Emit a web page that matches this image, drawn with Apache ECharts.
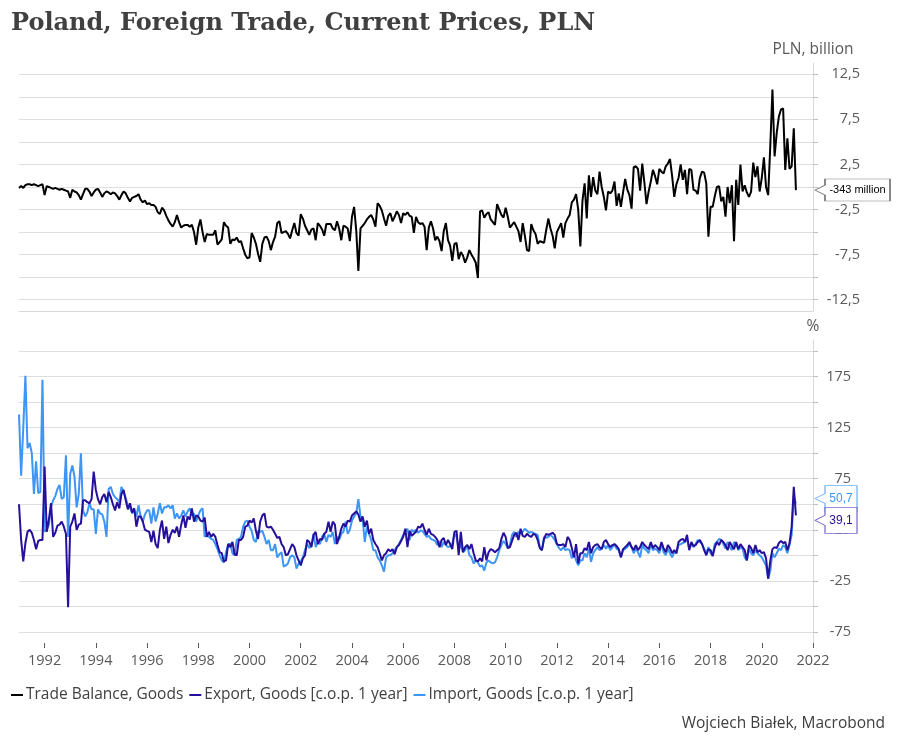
<!DOCTYPE html>
<html><head><meta charset="utf-8">
<script src="https://cdn.jsdelivr.net/npm/echarts@6/dist/echarts.min.js"></script>
<style>html,body{margin:0;padding:0;background:#fff}#c{width:900px;height:745px}</style>
</head><body><div id="c"></div>
<script>
// Monthly data, Jan 1991 .. May 2021
const startYear = 1991;
const xMin = 1991, xMax = 2022;

// Trade Balance, Goods (PLN billion)
const tradeBalance = [
 -0.1,0.1,-0.1,0.2,0.3,0.3,0.2,0.3,0.2,0.1,0.2,0.3,
 -0.9,0.1,0.0,-0.1,-0.2,-0.1,-0.2,-0.3,-0.2,-0.3,-0.4,-0.5,
 -1.2,-0.3,-0.5,-0.6,-0.9,-1.4,-0.8,-0.2,-0.2,-0.5,-1.0,-0.6,
 -0.3,-0.2,-0.6,-1.1,-0.7,-0.5,-0.6,-0.8,-0.6,-0.7,-1.0,-1.4,
 -0.9,-0.5,-0.7,-1.2,-1.6,-1.2,-1.1,-1.0,-0.8,-1.4,-1.7,-1.5,
 -1.9,-1.8,-2.0,-2.0,-2.2,-2.8,-3.0,-2.3,-2.6,-3.2,-3.7,-4.1,
 -4.4,-3.9,-3.1,-3.9,-4.5,-4.3,-4.2,-4.2,-4.4,-4.2,-5.0,-6.4,
 -4.5,-3.6,-5.0,-6.1,-5.2,-5.3,-5.3,-5.3,-4.8,-6.4,-6.1,-5.8,
 -3.9,-4.3,-4.5,-6.3,-5.8,-5.9,-5.6,-6.1,-6.0,-6.8,-7.5,-7.9,
 -7.8,-5.1,-5.6,-6.3,-7.4,-8.3,-6.3,-5.6,-5.5,-6.0,-7.0,-6.1,
 -5.5,-4.0,-3.8,-5.1,-5.0,-4.9,-5.2,-5.7,-4.8,-4.0,-5.1,-5.4,
 -3.0,-3.5,-4.3,-4.8,-5.3,-4.7,-4.6,-5.9,-4.0,-4.3,-4.7,-5.4,
 -4.1,-4.1,-4.1,-4.6,-4.8,-3.8,-4.6,-5.9,-4.3,-4.4,-4.6,-6.0,
 -3.3,-2.2,-4.8,-9.3,-4.6,-4.3,-4.0,-3.6,-3.3,-3.1,-3.6,-4.4,
 -1.8,-2.1,-2.6,-3.5,-4.3,-3.2,-2.9,-3.8,-3.3,-2.7,-3.1,-4.0,
 -2.9,-3.1,-2.8,-3.2,-3.3,-5.1,-3.3,-3.9,-4.1,-4.0,-4.4,-7.0,
 -4.5,-3.8,-4.6,-5.9,-5.5,-6.0,-7.1,-4.9,-4.0,-5.9,-6.5,-8.2,
 -6.3,-6.2,-8.0,-7.2,-7.6,-8.4,-7.8,-7.0,-7.5,-7.9,-8.4,-10.1,
 -2.7,-2.6,-3.4,-3.0,-2.8,-3.6,-3.9,-4.2,-1.9,-2.5,-3.1,-3.4,
 -2.3,-3.3,-4.5,-4.2,-3.9,-4.4,-4.9,-6.1,-4.0,-5.4,-7.0,-7.1,
 -4.1,-4.8,-5.2,-6.3,-6.0,-6.1,-6.2,-4.8,-3.5,-4.6,-5.4,-6.8,
 -5.0,-4.5,-4.0,-5.6,-4.0,-3.5,-3.1,-1.7,-1.4,-0.8,-2.5,-6.6,
 -1.5,0.4,-3.5,1.3,-1.1,1.1,-0.4,-0.8,1.7,0.0,-1.1,-2.6,
 -0.5,-0.7,-0.4,0.6,-2.1,-0.7,-2.2,-0.6,0.9,-0.3,-0.9,-2.4,
 2.2,2.3,2.0,-0.4,2.6,0.5,-1.9,-0.5,0.6,1.9,1.2,0.3,
 2.0,1.7,1.5,2.3,2.6,3.1,1.2,-1.1,0.3,1.0,2.5,0.8,
 1.9,-0.8,2.0,1.9,-0.3,-0.4,-0.8,1.0,1.7,1.6,0.4,-5.5,
 -2.2,-2.2,-1.0,0.0,0.1,-1.6,-1.1,-3.3,0.0,-1.8,0.2,-6.0,
 0.8,-2.0,2.5,-0.5,0.2,-0.6,-1.1,-0.5,2.7,1.1,2.3,-0.5,
 1.0,3.3,0.0,-0.9,4.6,10.8,3.4,6.0,7.8,8.6,8.7,1.9,
 5.4,2.0,2.3,6.5,-0.343
];

// Export, Goods [c.o.p. 1 year] (%)
const exportGoods = [
 50,15,-6,12,23,25,22,15,6,14,15,15,
 87,23,35,51,18,22,29,30,33,28,21,-51,
 28,33,41,25,30,31,54,54,52,51,55,82,
 64,55,50,57,60,52,62,57,50,44,52,46,
 60,64,54,45,51,42,46,28,38,38,33,25,
 24,23,13,24,11,7,25,34,16,28,12,20,
 25,22,28,18,30,39,27,38,35,46,33,39,
 38,34,33,37,18,23,18,21,18,10,3,2,
 -6,-5,11,8,13,1,0,15,15,18,28,29,
 34,32,36,24,16,33,39,41,28,27,28,25,
 21,17,18,11,8,0,1,6,11,8,0,-5,
 -10,-3,0,15,13,8,20,23,11,16,15,21,
 23,33,23,33,30,11,18,26,31,28,34,33,
 39,41,43,40,33,38,28,34,21,26,15,11,
 8,2,-5,0,2,6,4,6,1,8,10,14,
 18,26,8,24,19,21,23,28,27,31,25,20,
 26,21,20,18,15,8,15,17,10,15,11,6,
 23,24,0,23,3,8,10,6,11,2,-5,-6,
 -3,-6,8,-5,3,6,5,3,5,7,16,22,
 18,7,8,14,20,22,15,26,19,18,21,19,
 18,21,20,15,7,5,16,21,20,21,22,20,
 11,10,10,11,8,18,15,7,-2,11,-8,2,
 2,7,5,13,2,8,10,11,8,6,13,15,
 11,8,10,11,9,6,-2,6,8,10,13,8,
 5,10,5,8,13,10,8,6,13,7,10,8,
 5,13,7,3,10,7,2,5,2,13,15,16,
 13,20,5,13,9,10,13,15,11,5,0,6,
 5,-1,8,13,10,15,13,10,5,13,9,6,
 13,6,11,8,5,-5,10,7,2,10,3,5,
 2,3,-3,-23,-5,6,8,7,12,14,12,13,
 5,12,28,67,39.1
];

// Import, Goods [c.o.p. 1 year] (%)
const importGoods = [
 138,78,125,176,105,110,100,60,92,61,62,172,
 23,25,30,47,54,58,65,69,55,57,98,18,
 80,88,77,47,60,100,44,38,42,51,45,45,
 21,45,41,40,33,18,65,67,60,57,55,52,
 67,62,56,49,47,41,44,38,49,38,33,40,
 44,44,31,47,33,41,51,41,47,47,49,46,
 49,36,41,36,39,44,38,43,46,39,41,33,
 39,44,46,18,20,18,16,15,11,6,0,-5,
 -7,3,11,11,2,0,15,16,18,28,33,34,
 28,24,15,13,24,23,24,18,11,15,5,5,
 11,-2,1,3,-11,-10,-8,-2,0,-2,-13,-8,
 -6,-2,5,11,7,10,21,8,13,11,18,21,
 13,20,18,23,11,18,15,21,23,33,21,25,
 34,38,41,55,38,36,13,28,21,15,5,5,
 -2,-5,-10,-16,-2,0,0,2,5,8,11,15,
 20,23,26,15,25,23,25,22,24,24,21,18,
 19,16,15,14,10,14,8,13,10,8,9,11,
 21,18,5,11,3,5,10,0,-2,-8,-5,-7,
 -11,-10,-15,-7,-5,-7,-8,-7,-2,5,10,14,
 11,7,10,20,23,18,23,21,23,26,24,22,
 23,22,21,20,8,5,18,17,18,20,18,15,
 11,7,5,8,5,6,5,-3,2,-5,-10,-5,
 -5,2,-2,6.5,-6.5,2,5,8,5,6.5,10,6.5,
 10,5,8,10,6.5,5,-2,5,6.5,8,11,8,
 2,6.5,3,-2,10,6.5,5,2,11,5,6.5,5,
 2,11,3,0,6.5,2,-2,3,2,10,11,12,
 13,16,6.5,11,8,11,15,13,11,6.5,2,8,
 2,0,11,13,16,15,11,6.5,13,8,5,13,
 11,5,8,6.5,-2,-5,6.5,2,0,5,2,0,
 -2,-6,-10,-23,-15,2,-2,2,6.5,5,10,8,
 2,10,20,58,50.7
];

const yearTicks = [1992,1994,1996,1998,2000,2002,2004,2006,2008,2010,2012,2014,2016,2018,2020,2022];
const balanceTicks = [-12.5,-10,-7.5,-5,-2.5,0,2.5,5,7.5,10,12.5];
const balanceLabels = [-12.5,-7.5,-2.5,2.5,7.5,12.5];
const pctTicks = [-75,-50,-25,0,25,50,75,100,125,150,175,200];
const pctLabels = [-75,-25,25,75,125,175];
const seriesNames = ['Trade Balance, Goods','Export, Goods [c.o.p. 1 year]','Import, Goods [c.o.p. 1 year]'];
const colors = ['#000000','#26109b','#3d95f6'];

const toPairs = arr => arr.map((v, i) => [startYear + i / 12, v]);
const comma = v => String(v).replace('.', ',');
const last = arr => arr[arr.length - 1];

const FONT = 'Open Sans';
const axisTxt = {color:'#595959', fontSize:14.5, fontFamily:FONT};
const nameTxt = {color:'#595959', fontSize:15.5, fontFamily:FONT};
const gridCol = '#dedede';

function callout(w, h, borderColor, textColor, dy, text, fs) {
  const a = 10, m = h / 2;
  return {
    symbol: `path://M0,${m} L${a},${m-5} L${a},0 L${w},0 L${w},${h} L${a},${h} L${a},${m+5} Z`,
    symbolSize: [w, h],
    symbolKeepAspect: false,
    symbolOffset: [2 + w / 2, dy],
    itemStyle: {color:'#ffffff', borderColor: borderColor, borderWidth: 1},
    label: {show:true, position:'inside', offset:[a/2, 0], color:textColor, fontSize:fs, fontFamily:'Liberation Sans', formatter: () => text},
    silent: true
  };
}

const chart = echarts.init(document.getElementById('c'), null, {renderer:'canvas'});
chart.setOption({
  animation:false,
  backgroundColor:'#ffffff',
  textStyle:{fontFamily:FONT},
  title:[
    {text:'Poland, Foreign Trade, Current Prices, PLN', left:6, top:7,
     textStyle:{fontFamily:'DejaVu Serif', fontWeight:'bold', fontSize:24, color:'#404040'}},
    {text:'Wojciech Białek, Macrobond', right:10, top:711,
     textStyle:{fontFamily:FONT, fontWeight:'normal', fontSize:15.5, color:'#404040'}}
  ],
  legend:{
    left:6, top:682, icon:'rect', itemWidth:12, itemHeight:2, itemGap:6,
    textStyle:{fontFamily:FONT, fontSize:15.5, color:'#404040', padding:[0,0,0,-2]},
    data: seriesNames
  },
  grid:[
    {left:19, right:87, top:63, height:248},
    {left:19, right:87, top:340, height:303}
  ],
  xAxis:[
    {type:'value', gridIndex:0, min:xMin, max:xMax,
     axisLine:{show:true, onZero:false, lineStyle:{color:'#d9d9d9'}},
     axisTick:{show:false}, axisLabel:{show:false}, splitLine:{show:false}},
    {type:'value', gridIndex:1, min:xMin, max:xMax,
     axisLine:{show:false, onZero:false},
     axisTick:{show:true, length:5, lineStyle:{color:'#595959'}, customValues: yearTicks},
     axisLabel:Object.assign({customValues: yearTicks, margin:10, formatter: v => String(v)}, axisTxt),
     splitLine:{show:false}}
  ],
  yAxis:[
    {type:'value', gridIndex:0, position:'right', min:-13.75, max:13.75,
     name:'PLN, billion', nameLocation:'end', nameGap:5, nameTextStyle:nameTxt,
     axisLine:{show:true, lineStyle:{color:'#d9d9d9'}},
     axisTick:{show:true, length:5, lineStyle:{color:'#bfbfbf'}, customValues: balanceTicks},
     axisLabel:Object.assign({customValues: balanceLabels, align:'right', margin:47, formatter: v => comma(v)}, axisTxt),
     splitLine:{show:true, lineStyle:{color:gridCol, width:1}}},
    {type:'value', gridIndex:1, position:'right', min:-86, max:211,
     name:'%', nameLocation:'end', nameGap:5, nameTextStyle:nameTxt,
     axisLine:{show:true, lineStyle:{color:'#d9d9d9'}},
     axisTick:{show:true, length:5, lineStyle:{color:'#bfbfbf'}, customValues: pctTicks},
     axisLabel:Object.assign({customValues: pctLabels, align:'right', margin:38, formatter: v => comma(v)}, axisTxt),
     splitLine:{show:true, lineStyle:{color:gridCol, width:1}}}
  ],
  series:[
    {name:seriesNames[0], type:'line', xAxisIndex:0, yAxisIndex:0, data:toPairs(tradeBalance),
     showSymbol:false, color:colors[0], lineStyle:{width:2, color:colors[0]}, z:3,
     markPoint:{data:[Object.assign({coord:[xMax, last(tradeBalance)]},
        callout(75, 22, '#7f7f7f', '#000000', 0, Math.round(last(tradeBalance)*1000) + ' million', 11))]}},
    {name:seriesNames[2], type:'line', xAxisIndex:1, yAxisIndex:1, data:toPairs(importGoods),
     showSymbol:false, color:colors[2], lineStyle:{width:2, color:colors[2]}, z:3,
     markPoint:{data:[Object.assign({coord:[xMax, last(importGoods)]},
        callout(42, 26, '#6fb0ff', colors[2], -5, comma(last(importGoods)), 12))]}},
    {name:seriesNames[1], type:'line', xAxisIndex:1, yAxisIndex:1, data:toPairs(exportGoods),
     showSymbol:false, color:colors[1], lineStyle:{width:2, color:colors[1]}, z:4,
     markPoint:{data:[Object.assign({coord:[xMax, last(exportGoods)]},
        callout(42, 26, '#7a6ccc', colors[1], 5, comma(last(exportGoods)), 12))]}}
  ]
});
</script></body></html>
